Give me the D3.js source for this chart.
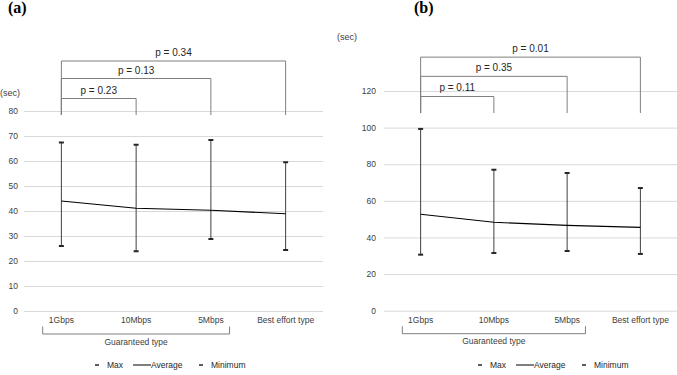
<!DOCTYPE html>
<html>
<head>
<meta charset="utf-8">
<script src="https://cdn.jsdelivr.net/npm/d3@7"></script>
<style>
  html, body { margin: 0; padding: 0; background: #fff; }
  svg { display: block; font-family: "Liberation Sans", Arial, sans-serif; }
</style>
</head>
<body>
<svg id="chart" width="677" height="375"></svg>
<script>
// ---------- data ----------
const categories = ["1Gbps", "10Mbps", "5Mbps", "Best effort type"];
const groupLabel = "Guaranteed type";
const legendLabels = ["Max", "Average", "Minimum"];

// Panel (a)
const maxA = [67.4, 66.5, 68.4, 59.5];
const avgA = [44.0, 41.1, 40.3, 38.9];
const minA = [26.0, 23.9, 28.8, 24.4];
const ticksA = [0, 10, 20, 30, 40, 50, 60, 70, 80];
const pLabelsA = ["p = 0.23", "p = 0.13", "p = 0.34"];
const pTargetsA = ["10Mbps", "5Mbps", "Best effort type"];
const pLevelsA = [85, 93, 100];
const pBottomA = 78.4;

// Panel (b)
const maxB = [99.3, 77.0, 75.2, 67.0];
const avgB = [52.7, 48.3, 46.6, 45.5];
const minB = [30.6, 31.5, 32.6, 31.0];
const ticksB = [0, 20, 40, 60, 80, 100, 120];
const pLabelsB = ["p = 0.11", "p = 0.35", "p = 0.01"];
const pTargetsB = ["10Mbps", "5Mbps", "Best effort type"];
const pLevelsB = [117, 128, 138.5];
const pBottomB = 108;

// ---------- drawing ----------
const svg = d3.select("#chart");

function drawPanel(cfg) {
  const g = svg.append("g");
  const x = d3.scaleBand().domain(categories).range([cfg.left, cfg.right]);
  const y = d3.scaleLinear().domain([0, d3.max(cfg.ticks)]).range([cfg.bottom, cfg.top]);
  const cx = c => x(c) + x.bandwidth() / 2;

  // title
  g.append("text").attr("x", cfg.titleX).attr("y", 13)
    .attr("font-family", "Liberation Serif, Times New Roman, serif")
    .attr("font-weight", "bold").attr("font-size", 16).attr("fill", "#000")
    .text(cfg.title);

  // unit label
  g.append("text").attr("x", cfg.unitX).attr("y", cfg.unitY)
    .attr("font-size", 9).attr("fill", "#404040").text("(sec)");

  // y axis with gridlines
  const yAxis = d3.axisLeft(y).tickValues(cfg.ticks)
    .tickSize(-(cfg.right - cfg.left)).tickPadding(cfg.pad);
  const ya = g.append("g").attr("transform", `translate(${cfg.left},0)`).call(yAxis);
  ya.select(".domain").remove();
  ya.selectAll(".tick line").attr("stroke", "#d9d9d9").attr("stroke-width", 1);
  ya.selectAll(".tick text").attr("font-size", 8.5).attr("fill", "#404040")
    .attr("font-family", "Liberation Sans, Arial, sans-serif");

  // x axis labels
  const xAxis = d3.axisBottom(x).tickSize(0).tickPadding(6);
  const xa = g.append("g").attr("transform", `translate(0,${cfg.bottom})`).call(xAxis);
  xa.select(".domain").remove();
  xa.selectAll(".tick text").attr("font-size", 8.5).attr("fill", "#404040")
    .attr("font-family", "Liberation Sans, Arial, sans-serif");

  // group bracket (Guaranteed type)
  const q = x.bandwidth() * 0.25;
  const gx1 = cx(categories[0]) - q, gx2 = cx(categories[2]) + q;
  g.append("path")
    .attr("d", `M${gx1},${cfg.bottom + 15.5}V${cfg.bottom + 23}H${gx2}V${cfg.bottom + 15.5}`)
    .attr("fill", "none").attr("stroke", "#7f7f7f").attr("stroke-width", 1);
  g.append("text").attr("x", (gx1 + gx2) / 2).attr("y", cfg.bottom + 33.5)
    .attr("text-anchor", "middle").attr("font-size", 8.5).attr("fill", "#404040")
    .text(groupLabel);

  // significance brackets
  const x0 = cx(categories[0]);
  cfg.pLabels.forEach((lab, i) => {
    const x2 = cx(cfg.pTargets[i]);
    const yl = y(cfg.pLevels[i]), yb = y(cfg.pBottom);
    g.append("path")
      .attr("d", `M${x0},${yb}V${yl}H${x2}V${yb}`)
      .attr("fill", "none").attr("stroke", "#7f7f7f").attr("stroke-width", 1);
    g.append("text").attr("x", (x0 + x2) / 2).attr("y", yl - 5)
      .attr("text-anchor", "middle").attr("font-size", 10).attr("fill", "#262626")
      .text(lab);
  });

  // error bars
  const bars = g.append("g");
  categories.forEach((c, i) => {
    const xc = cx(c);
    bars.append("line").attr("x1", xc).attr("x2", xc)
      .attr("y1", y(cfg.max[i])).attr("y2", y(cfg.min[i]))
      .attr("stroke", "#404040").attr("stroke-width", 1);
    [cfg.max[i], cfg.min[i]].forEach(v => {
      bars.append("line").attr("x1", xc - 2.5).attr("x2", xc + 2.5)
        .attr("y1", y(v)).attr("y2", y(v))
        .attr("stroke", "#262626").attr("stroke-width", 2);
    });
  });

  // average line
  const line = d3.line().x((d, i) => cx(categories[i])).y(d => y(d));
  g.append("path").datum(cfg.avg).attr("d", line)
    .attr("fill", "none").attr("stroke", "#000").attr("stroke-width", 1.1);

  // legend
  const ly = 365, lx = cfg.legendX;
  g.append("line").attr("x1", lx - 2).attr("x2", lx + 2).attr("y1", ly).attr("y2", ly)
    .attr("stroke", "#262626").attr("stroke-width", 1.5);
  g.append("text").attr("x", lx + 10).attr("y", ly + 3).attr("font-size", 8.5)
    .attr("fill", "#262626").text(legendLabels[0]);
  g.append("line").attr("x1", lx + 36).attr("x2", lx + 54).attr("y1", ly).attr("y2", ly)
    .attr("stroke", "#000").attr("stroke-width", 1);
  g.append("text").attr("x", lx + 54).attr("y", ly + 3).attr("font-size", 8.5)
    .attr("fill", "#262626").text(legendLabels[1]);
  g.append("line").attr("x1", lx + 102).attr("x2", lx + 106).attr("y1", ly).attr("y2", ly)
    .attr("stroke", "#262626").attr("stroke-width", 1.5);
  g.append("text").attr("x", lx + 114).attr("y", ly + 3).attr("font-size", 8.5)
    .attr("fill", "#262626").text(legendLabels[2]);
}

drawPanel({
  title: "(a)", titleX: 8, unitX: 0, unitY: 96,
  left: 24, right: 323, top: 111, bottom: 311, pad: 6,
  ticks: ticksA, max: maxA, avg: avgA, min: minA,
  pLabels: pLabelsA, pTargets: pTargetsA, pLevels: pLevelsA, pBottom: pBottomA,
  legendX: 97
});
drawPanel({
  title: "(b)", titleX: 414, unitX: 337, unitY: 40,
  left: 384, right: 677, top: 91, bottom: 310.7, pad: 8,
  ticks: ticksB, max: maxB, avg: avgB, min: minB,
  pLabels: pLabelsB, pTargets: pTargetsB, pLevels: pLevelsB, pBottom: pBottomB,
  legendX: 480
});
</script>
</body>
</html>
